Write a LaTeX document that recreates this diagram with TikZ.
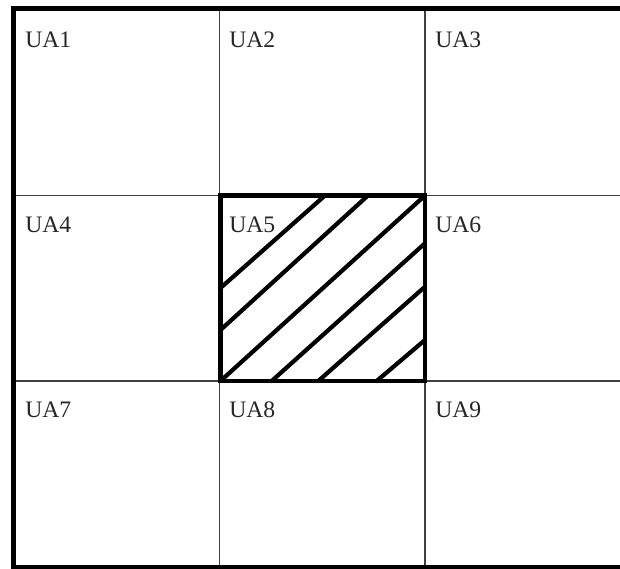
\documentclass[tikz,border=0pt]{standalone}
\usepackage{fontspec}
\setmainfont{Liberation Serif}
\usepackage{tikz}

\begin{document}
\begin{tikzpicture}[x=0.025cm, y=-0.025cm,
  gridline/.style={line width=1.4pt, black!75},
  border/.style={line width=3.6pt, black},
  zone/.style={line width=3pt, black, line cap=round},
  lbl/.style={anchor=base west, inner sep=0pt, text=black!85,
    font=\fontsize{16.8}{20}\selectfont}]
  \useasboundingbox (0,0) rectangle (620,569);
  \fill[white] (0,0) rectangle (620,569);
  \foreach \y in {195.5,381} \draw[gridline] (13.5,\y) -- (620,\y);
  \foreach \x in {219.5,425} \draw[gridline] (\x,8.5) -- (\x,569);
  \draw[border] (620,8.5) -- (13.5,8.5) -- (13.5,567.5) -- (620,567.5);
  \foreach \c/\x in {0/25,1/229,2/435}
    \foreach \r/\y in {0/48,1/233,2/418} {
      \pgfmathtruncatemacro\n{3*\r+\c+1}
      \node[lbl] (ua\n) at (\x,\y) {UA\n};
    }
  \draw[zone] (220.5,195.5) rectangle (425,381);
  \draw[zone] (325,195.5) -- (220.5,288);
  \draw[zone] (368,195.5) -- (220.5,330);
  \draw[zone] (425,195.5) -- (220.5,381);
  \draw[zone] (425,243.3) -- (271.7,381);
  \draw[zone] (425,286.7) -- (318.3,381);
  \draw[zone] (425,340) -- (376.7,381);
\end{tikzpicture}
\end{document}
